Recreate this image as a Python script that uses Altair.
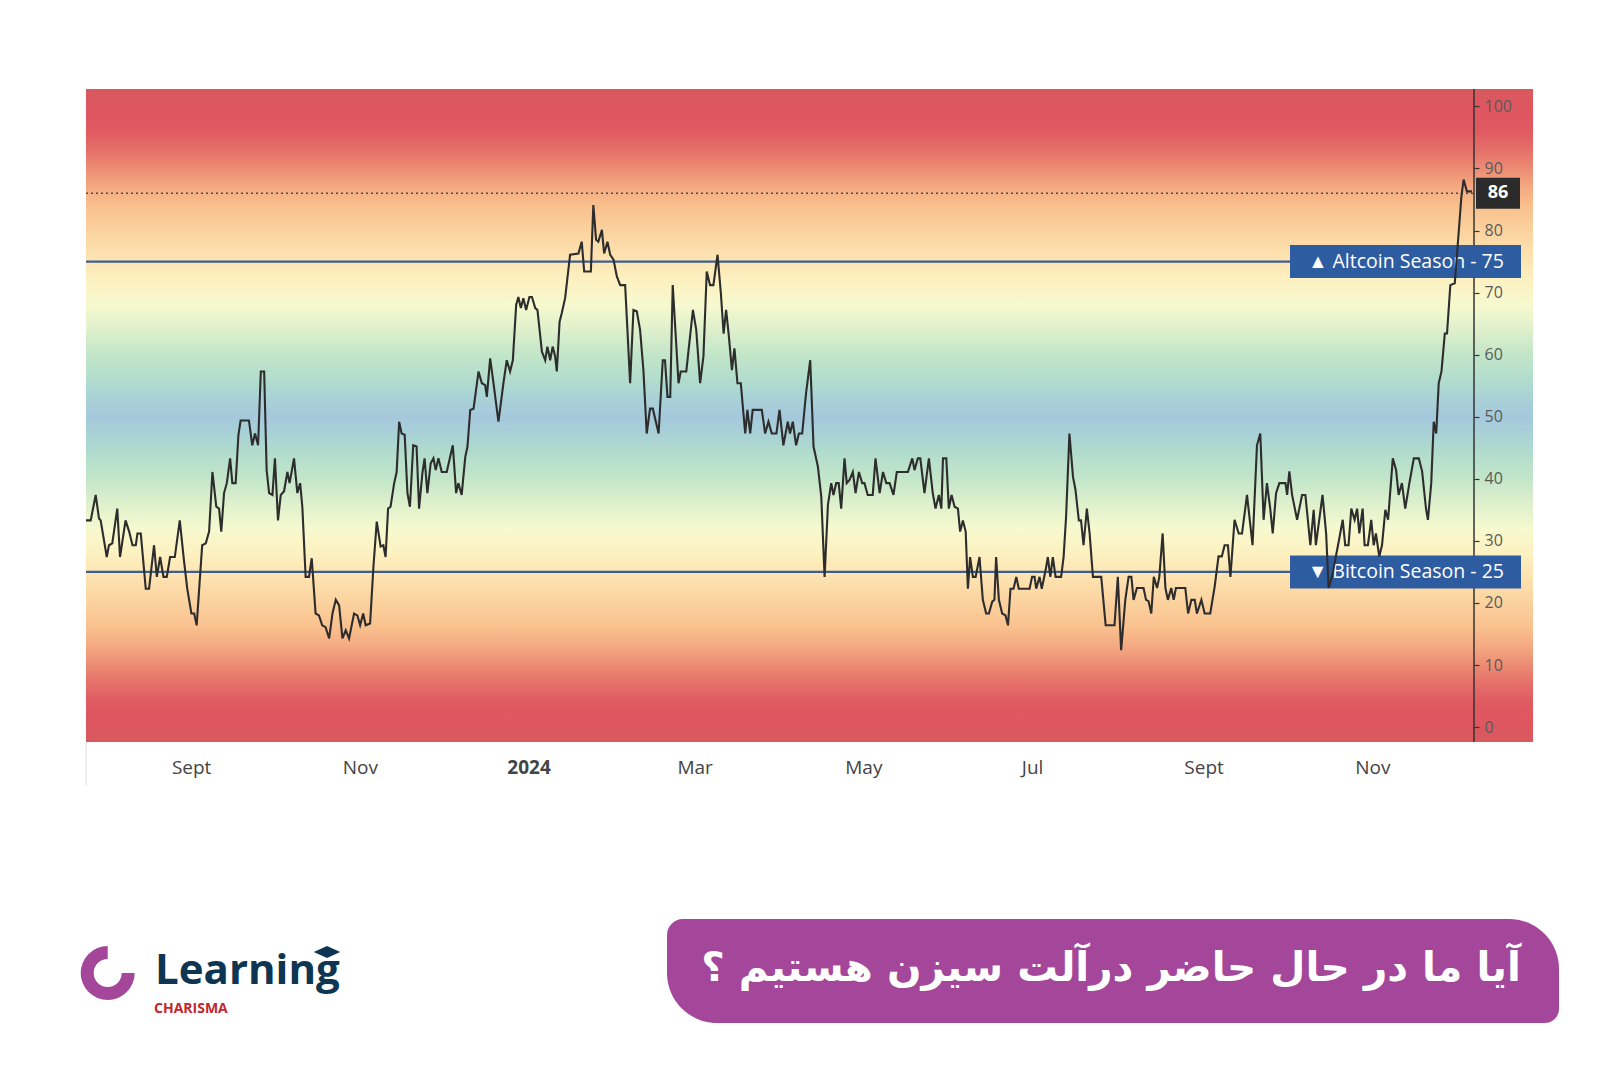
import altair as alt
import pandas as pd

# ---------------- data ----------------
start_date = "2023-07-25"
day_offset = [
    0.0, 1.7, 3.5, 4.7, 5.3, 6.5, 7.5, 8.3, 9.5, 11.3, 12.3, 14.3, 15.6, 16.8, 18.0, 18.6, 19.8, 21.6, 22.8,
    24.6, 25.6, 26.8, 28.0, 29.2, 30.4, 32.1, 33.9, 35.4, 36.6, 38.1, 39.1, 40.0, 42.0, 43.3, 44.5, 45.7,
    47.1, 48.1, 48.9, 49.9, 50.9, 52.1, 52.9, 54.1, 55.1, 55.9, 58.9, 60.1, 61.1, 62.2, 63.2, 64.4, 65.3,
    66.2, 67.4, 68.3, 69.4, 70.4, 71.6, 72.8, 73.6, 75.2, 76.4, 77.4, 78.2, 79.4, 80.6, 81.6, 83.0, 84.2,
    85.4, 86.6, 87.9, 89.1, 90.3, 91.5, 92.7, 93.9, 95.1, 96.9, 98.1, 99.1, 100.2, 101.1, 102.7, 103.9,
    105.1, 106.5, 107.5, 108.3, 109.2, 110.1, 111.4, 112.3, 113.2, 114.1, 115.2, 116.2, 117.1, 118.3,
    119.5, 120.4, 121.6, 122.4, 123.4,
    124.6, 125.6, 126.4, 127.4, 128.6, 130.4, 132.6, 133.8, 134.6, 135.8, 137.1, 137.9, 138.9, 140.1,
    141.9, 143.1, 144.3, 144.9, 146.1, 147.3, 149.1, 150.9, 152.1, 153.3, 154.3, 155.5, 156.3, 157.2,
    158.1, 159.1, 160.3, 161.2, 162.4, 163.2, 164.8, 166.0, 166.8, 167.8, 168.7, 169.6, 170.2, 171.2,
    172.0, 173.2, 175.0, 178.0, 179.2, 180.1, 182.5, 183.4, 184.4, 185.2, 186.5, 187.3, 188.5, 189.5,
    190.7, 191.9, 193.1, 194.9, 196.7, 197.9, 199.1, 200.3, 201.5, 202.7, 203.9, 204.9, 207.0, 208.5,
    209.3, 210.2, 211.2, 212.1, 214.2, 215.0, 217.0, 219.4, 220.6, 222.0, 223.2, 224.4, 225.6, 226.8,
    228.3, 229.5, 230.5, 231.4, 232.3, 233.5, 234.4, 235.5, 236.7, 238.3, 239.1, 240.1, 241.0, 244.3,
    245.5, 246.7, 247.9, 249.6,
    250.7, 252.1, 253.7, 254.5, 255.5, 256.7, 257.7, 258.9, 260.3, 261.8, 263.0, 264.6, 265.8, 267.0,
    268.2, 269.4, 270.2, 271.2, 272.1, 273.0, 274.2, 275.0, 276.0, 277.2, 278.2, 279.4, 280.6, 281.4,
    282.6, 284.4, 285.4, 286.9, 288.1, 289.3, 290.5, 291.9, 293.1, 297.1, 298.7, 299.5, 300.7, 301.6,
    303.1, 304.7, 306.1, 307.1, 308.3, 309.2, 309.8, 311.0, 311.9, 312.9, 314.0, 315.2, 316.0, 317.0,
    318.0, 318.8, 319.6, 320.6, 321.6, 323.0, 324.2, 325.4, 326.4, 327.6, 328.4, 329.0, 330.0, 331.2,
    332.4, 333.3, 334.2, 335.3, 336.3, 337.2, 341.1, 342.0, 342.9, 343.5, 344.7, 345.5, 346.9, 347.7,
    348.6, 349.5, 350.5, 352.5, 353.4, 354.3, 355.5, 356.8, 357.7, 358.9, 359.7, 360.6, 361.8, 362.8,
    364.0, 367.0, 368.6, 371.8, 373.0, 374.2,
    375.7, 376.9, 377.9, 378.7, 379.9, 382.3, 383.2, 384.1, 385.1, 386.0, 387.2, 388.0, 389.2, 390.2,
    391.1, 392.3, 393.2, 394.0, 397.4, 398.4, 399.6, 400.8, 401.6, 403.2, 404.4, 406.4, 408.0, 409.4,
    410.6, 411.6, 412.8, 413.7, 415.2, 416.7, 417.9, 419.7, 421.7, 423.3, 424.5, 425.7, 426.9, 428.1,
    429.0, 430.2, 431.4, 433.6, 434.2, 435.0, 436.0, 437.8, 439.6, 440.8, 442.6, 443.8, 444.6, 445.8,
    447.0, 448.3, 449.2, 450.4, 452.6, 454.3, 455.2, 456.4, 457.4, 458.6, 459.5, 460.3, 461.5, 462.2,
    463.4, 464.6, 465.5, 466.3, 467.5, 468.5, 469.7, 470.7, 472.4, 473.6, 474.5, 475.7, 476.9, 478.4,
    480.0, 481.8, 483.0, 484.4, 485.1, 486.3, 487.2, 488.1, 489.0, 490.0, 491.2, 492.0, 493.2, 494.8,
    496.2, 497.2, 498.0, 499.2, 501.0,
]
index_value = [
    33.3, 33.3, 37.4, 33.6, 33.3, 30.1, 27.4, 29.3, 29.6, 35.2, 27.4, 33.3, 31.5, 29.3, 29.3, 31.2, 31.2, 22.3, 22.3,
    29.3, 24.2, 27.4, 24.2, 24.2, 27.4, 27.4, 33.3, 26.9, 22.3, 18.3, 18.3, 16.4, 29.3, 29.6, 31.5, 41.1,
    35.5, 35.2, 31.5, 37.7, 39.3, 43.3, 39.3, 39.3, 47.1, 49.4, 49.4, 45.4, 47.3, 45.4, 57.3, 57.3, 41.4,
    37.7, 37.4, 43.3, 33.3, 37.4, 38.0, 41.1, 39.3, 43.3, 37.7, 39.3, 35.5, 24.2, 24.2, 27.2, 18.3, 18.0,
    16.4, 16.1, 14.3, 18.3, 20.5, 19.6, 14.3, 15.6, 14.3, 18.3, 18.0, 16.4, 18.3, 16.4, 16.7, 25.8,
    33.1, 29.1, 29.3, 27.4, 35.2, 35.5, 39.3, 41.1, 49.2, 47.3, 47.1, 37.7, 35.5, 45.4,
    45.2, 35.2, 40.9, 43.3, 37.7,
    42.5, 43.3, 41.4, 43.3, 41.1, 41.1, 45.4, 37.7, 39.3, 37.4, 43.5, 45.2, 51.1, 51.3,
    57.3, 55.4, 55.1, 53.2, 59.4, 55.4, 49.2, 55.4, 59.1, 57.3, 59.1, 68.0, 69.3, 67.5,
    69.1, 67.2, 69.3, 69.3, 67.5, 67.2, 60.5, 59.1, 61.3, 59.1, 61.3, 59.7, 57.3, 65.3,
    66.7, 69.1, 76.1, 76.3, 78.2, 73.4, 73.4, 84.1, 78.5, 78.2, 80.1, 76.3, 78.2, 76.1,
    75.3, 72.6, 71.2, 71.2, 55.4, 67.2, 67.0, 64.0, 57.5, 47.3, 51.3, 51.3, 47.3, 59.1,
    59.1, 53.2, 53.2, 71.2, 55.4, 57.3, 57.3, 67.2, 64.0, 55.4, 59.7, 73.4, 71.2, 71.2,
    76.1, 69.9, 63.4, 67.2, 63.4, 57.5, 61.0, 55.4, 55.4, 47.3, 51.1, 47.3, 51.1, 51.1,
    47.3, 49.2, 47.3, 47.3,
    51.1, 45.4, 49.2, 47.3, 49.2, 45.4, 47.3, 47.3, 53.8, 59.1, 45.2, 41.9, 37.1, 24.2,
    35.8, 39.3, 37.4, 39.3, 39.3, 35.2, 43.3, 39.3, 39.8, 41.1, 37.7, 41.1, 39.3, 39.3,
    37.4, 37.4, 43.3, 37.7, 41.1, 39.3, 39.3, 37.4, 41.1, 41.1, 43.3, 41.4, 43.3, 43.3,
    37.7, 43.3, 37.7, 35.2, 37.4, 35.2, 43.3, 43.3, 35.2, 37.4, 35.5, 35.2, 31.5, 33.3,
    31.5, 22.3, 27.4, 24.2, 24.2, 27.4, 20.5, 18.3, 18.3, 20.2, 20.5, 27.4, 20.5, 18.3,
    18.0, 16.4, 22.3, 22.3, 24.2, 22.3, 22.3, 24.2, 24.2, 22.3, 24.2, 22.3, 25.3, 27.4,
    24.2, 27.4, 24.2, 24.2, 27.4, 33.9, 47.3, 40.3, 38.2, 33.3, 33.3, 29.3, 35.2, 31.2,
    24.2, 24.2, 16.4, 16.4, 24.2, 12.4,
    20.5, 24.2, 24.2, 20.5, 22.4, 22.4, 20.5, 20.3, 18.3, 24.2, 22.4, 24.2, 31.2, 22.4,
    20.5, 22.4, 20.5, 22.4, 22.4, 18.3, 20.5, 20.5, 18.3, 20.5, 18.3, 18.3, 22.6, 27.5,
    27.5, 29.3, 29.3, 24.2, 33.4, 31.2, 31.2, 37.4, 29.3, 45.4, 47.3, 33.4, 39.3, 35.2,
    31.2, 37.7, 39.3, 39.3, 37.4, 41.2, 37.4, 33.4, 37.4, 37.4, 29.3, 35.0, 29.3, 33.4,
    37.4, 31.2, 22.4, 24.2, 29.3, 33.4, 29.3, 29.3, 35.2, 33.4, 35.2, 31.2, 35.2, 29.3,
    29.3, 33.4, 29.3, 31.2, 27.5, 29.3, 35.0, 33.4, 43.3, 41.4, 37.4, 39.3, 35.2, 39.3,
    43.3, 43.3, 41.2, 35.2, 33.4, 39.3, 49.2, 47.3, 55.4, 57.3, 63.4, 63.4, 71.2, 71.5,
    79.6, 85.5, 88.2, 86.3, 86.3,
]

season_value = [75, 25]
season_label = ["\u25b2 Altcoin Season - 75", "\u25bc Bitcoin Season - 25"]
current_value = [86]
current_label = ["86"]
y_ticks = [0, 10, 20, 30, 40, 50, 60, 70, 80, 90, 100]
x_tick_dates = [(2023, 9, 1), (2023, 11, 1), (2024, 1, 1), (2024, 3, 1),
                (2024, 5, 1), (2024, 7, 1), (2024, 9, 1), (2024, 11, 1)]

banner_text = ["آیا ما در حال حاضر درآلت سیزن هستیم ؟"]
brand_main = ["Learning"]
brand_sub = ["CHARISMA"]

# background gradient: distance from 50 -> colour (style)
band_dist = [0, 3, 6, 10, 14, 18, 22, 26, 30, 34, 37, 40, 43, 46, 49, 52.8]
band_color = ["#a5c8dc", "#a9d2d6", "#b2dccd", "#c3e6c9", "#def0cc", "#f6f9cf", "#fdf1c1",
              "#fde2b0", "#fbd29e", "#f9c08e", "#f4a981", "#ec8c74", "#e56f69", "#e05a62",
              "#df5660", "#d9595e"]

# ---------------- layout ----------------
W, H = 1447, 653
Y_MIN, Y_MAX = -2.4, 102.8
AXIS_X = 1388

dates = (pd.Timestamp(start_date) + pd.to_timedelta(day_offset, unit="D")).strftime("%Y-%m-%dT%H:%M:%SZ")
line_df = pd.DataFrame({"date": list(dates), "value": index_value})

half_box = 16.5 / (H / (Y_MAX - Y_MIN))
season_df = pd.DataFrame({"value": season_value, "label": season_label,
                          "lo": [v - half_box for v in season_value],
                          "hi": [v + half_box for v in season_value]})
cur_half = 15.5 / (H / (Y_MAX - Y_MIN))
current_df = pd.DataFrame({"value": current_value, "label": current_label,
                           "lo": [v - cur_half for v in current_value],
                           "hi": [v + cur_half for v in current_value]})
one = pd.DataFrame({"a": [0]})

stops = []
for d, c in zip(band_dist, band_color):
    for v in ([50 + d, 50 - d] if d > 0 else [50]):
        off = (Y_MAX - v) / (Y_MAX - Y_MIN)
        off = min(max(off, 0), 1)
        stops.append((off, c))
stops = sorted(set(stops))
gradient = alt.Gradient(gradient="linear", x1=0, y1=0, x2=0, y2=1,
                        stops=[alt.GradientStop(offset=o, color=c) for o, c in stops])

x_scale = alt.Scale(type="utc", domain=[alt.DateTime(year=2023, month=7, date=25, utc=True),
                                        alt.DateTime(year=2024, month=12, date=29, hours=2, utc=True)])
y_scale = alt.Scale(domain=[Y_MIN, Y_MAX], nice=False, zero=False)

y_axis = alt.Axis(orient="right", offset=-(W - AXIS_X), values=y_ticks, domain=False, grid=False,
                  ticks=True, tickSize=5, tickColor="#333333", tickWidth=1.2, labelPadding=5,
                  labelColor="#5a5a5a", labelFontSize=16, labelFont="Open Sans", title=None, zindex=1)
x_axis = alt.Axis(values=[alt.DateTime(year=y, month=m, date=d, utc=True) for y, m, d in x_tick_dates],
                  domain=False, ticks=False, grid=False, labelPadding=16, labelFontSize=19,
                  labelFont="Open Sans", labelColor="#444444", title=None,
                  labelExpr="utcFormat(datum.value, '%m') == '01' ? utcFormat(datum.value, '%Y') : "
                            "(utcFormat(datum.value, '%m') == '09' ? 'Sept' : utcFormat(datum.value, '%b'))",
                  labelFontWeight={"condition": {"test": "utcFormat(datum.value, '%m') == '01'", "value": "bold"},
                                   "value": "normal"})

bg = alt.Chart(one).mark_rect(fill=gradient).encode(
    x=alt.value(0), x2=alt.value(W), y=alt.value(0), y2=alt.value(H))

season_rules = alt.Chart(season_df).mark_rule(color="#3c5f91", strokeWidth=2.2).encode(
    y=alt.Y("value:Q", scale=y_scale, axis=y_axis), x=alt.value(0), x2=alt.value(AXIS_X))

current_rule = alt.Chart(current_df).mark_rule(color="#4a4a4a", strokeWidth=1.4, strokeDash=[2, 3]).encode(
    y=alt.Y("value:Q", scale=y_scale, axis=y_axis), x=alt.value(0), x2=alt.value(AXIS_X))

axis_line = alt.Chart(one).mark_rule(color="#333333", strokeWidth=1.5).encode(
    x=alt.value(AXIS_X), y=alt.value(0), y2=alt.value(H))

left_edge = alt.Chart(one).mark_rule(color="#dedede", strokeWidth=1).encode(
    x=alt.value(0), y=alt.value(H), y2=alt.value(H + 44))

season_boxes = alt.Chart(season_df).mark_rect(color="#2e5ca1").encode(
    y=alt.Y("lo:Q", scale=y_scale, axis=y_axis), y2="hi:Q", x=alt.value(1204), x2=alt.value(1435))

season_text = alt.Chart(season_df).mark_text(color="white", fontSize=19.5, font="Open Sans",
                                             align="center", baseline="middle").encode(
    y=alt.Y("value:Q", scale=y_scale, axis=y_axis), x=alt.value(1320), text="label:N")

current_box = alt.Chart(current_df).mark_rect(color="#2b2b2b").encode(
    y=alt.Y("lo:Q", scale=y_scale, axis=y_axis), y2="hi:Q", x=alt.value(1390), x2=alt.value(1434))

current_text = alt.Chart(current_df).mark_text(color="white", fontSize=18, fontWeight="bold",
                                               font="Open Sans", align="center", baseline="middle").encode(
    y=alt.Y("value:Q", scale=y_scale, axis=y_axis), x=alt.value(1412), text="label:N")

line = alt.Chart(line_df).mark_line(color="#2d2d2d", strokeWidth=2.1).encode(
    x=alt.X("date:T", scale=x_scale, axis=x_axis),
    y=alt.Y("value:Q", scale=y_scale, axis=y_axis))

banner = alt.Chart(one).mark_rect(fill="#a4479a", cornerRadiusTopLeft=16, cornerRadiusBottomLeft=50,
                                  cornerRadiusTopRight=50, cornerRadiusBottomRight=14).encode(
    x=alt.value(581), x2=alt.value(1473), y=alt.value(830), y2=alt.value(934))

banner_label = alt.Chart(pd.DataFrame({"t": banner_text})).mark_text(
    color="white", fontSize=40.5, fontWeight="bold", font="DejaVu Sans", align="center",
    baseline="middle").encode(x=alt.value(1025), y=alt.value(880), text="t:N")

ring = alt.Chart(one).mark_arc(color="#a4479a", radius=27, radius2=14, theta=1.5708, theta2=6.2832).encode(
    x=alt.value(21.7), y=alt.value(884))

brand = alt.Chart(pd.DataFrame({"t": brand_main})).mark_text(
    color="#0e3552", fontSize=42, fontWeight="bold", font="Open Sans", align="left",
    baseline="alphabetic").encode(x=alt.value(69), y=alt.value(895), text="t:N")

brand2 = alt.Chart(pd.DataFrame({"t": brand_sub})).mark_text(
    color="#c3262d", fontSize=14, fontWeight="bold", font="Open Sans", align="left",
    baseline="alphabetic").encode(x=alt.value(68), y=alt.value(924), text="t:N")

cap = alt.Chart(one).mark_point(shape="M -1 0 L 0 -0.45 L 1 0 L 0 0.45 Z", filled=True, opacity=1,
                                color="#0e3552", size=700).encode(x=alt.value(241), y=alt.value(863))

chart = alt.layer(
    bg, season_rules, current_rule, axis_line, left_edge, season_boxes, season_text,
    current_box, current_text, line, banner, banner_label, ring, brand, brand2, cap
).properties(
    width=W, height=H,
    autosize=alt.AutoSizeParams(type="none"),
    padding={"left": 86, "top": 89, "right": 88, "bottom": 338},
    background="white",
).configure_view(stroke=None)

chart.save("out.html", embed_options={"renderer": "svg", "actions": False})
